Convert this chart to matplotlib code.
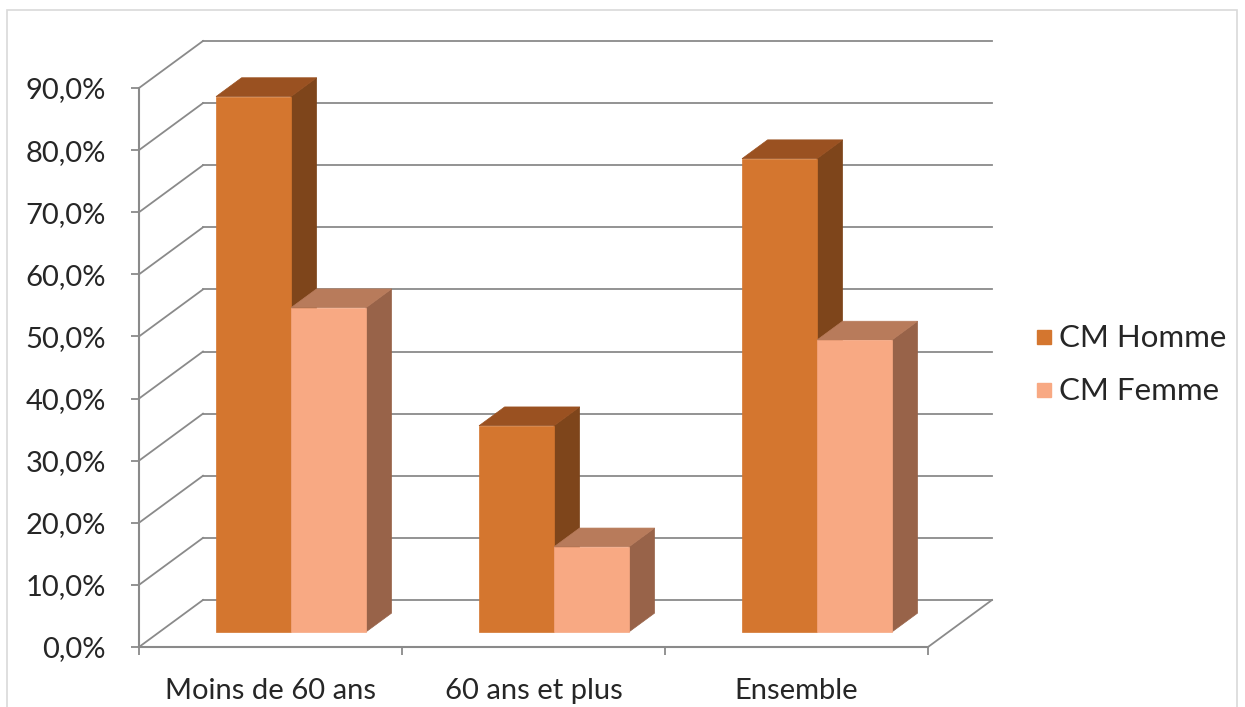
import matplotlib
matplotlib.use("Agg")
import matplotlib.pyplot as plt
from matplotlib.patches import Polygon, Rectangle
from matplotlib.lines import Line2D
import numpy as np

plt.rcParams["font.family"] = ["Lato", "DejaVu Sans"]

categories = ["Moins de 60 ans", "60 ans et plus", "Ensemble"]
series_names = ["CM Homme", "CM Femme"]
homme = [86.2, 33.2, 76.2]
femme = [52.2, 13.7, 47.0]
yticks = [0, 10, 20, 30, 40, 50, 60, 70, 80, 90]

# faces: front, top, side
COLORS = {
    "CM Homme": ("#D4762F", "#9A5121", "#7E451B"),
    "CM Femme": ("#F8A983", "#B87B5B", "#986349"),
}
GRID = "#8A8A8A"
TXT = "#262626"

# oblique projection of the depth axis (full depth in data units)
DX, DY = 0.2433, 7.57
D0, D1 = 0.32, 0.72      # bar depth span
BAR_W = 0.285


def proj(x, v, d):
    return (x + d * DX, v + d * DY)


fig = plt.figure(figsize=(12.45, 7.07), dpi=100)
ax = fig.add_axes([139 / 1245, 60 / 707, 789 / 1245, 559 / 707])
ax.set_xlim(0, 3)
ax.set_ylim(0, 90)
for s in ax.spines.values():
    s.set_visible(False)

# back wall gridlines + left wall diagonals
for v in yticks:
    x0, y0 = proj(0, v, 1)
    x1, y1 = proj(3, v, 1)
    ax.add_line(Line2D([x0, x1], [y0, y1], color=GRID, lw=1.3, clip_on=False, zorder=1))
    ax.add_line(Line2D([0, x0], [v, y0], color=GRID, lw=1.3, clip_on=False, zorder=1))

# floor right edge, front axes
xr, yr = proj(3, 0, 1)
ax.add_line(Line2D([3, xr], [0, yr], color=GRID, lw=1.3, clip_on=False, zorder=1))
ax.add_line(Line2D([0, 3], [0, 0], color=GRID, lw=1.5, clip_on=False, zorder=1))
ax.add_line(Line2D([0, 0], [0, 90], color=GRID, lw=1.5, clip_on=False, zorder=1))


def bar3d(xl, v, name):
    front_c, top_c, side_c = COLORS[name]
    xr_ = xl + BAR_W
    side = [proj(xr_, 0, D0), proj(xr_, 0, D1), proj(xr_, v, D1), proj(xr_, v, D0)]
    top = [proj(xl, v, D0), proj(xr_, v, D0), proj(xr_, v, D1), proj(xl, v, D1)]
    front = [proj(xl, 0, D0), proj(xr_, 0, D0), proj(xr_, v, D0), proj(xl, v, D0)]
    for pts, c in [(side, side_c), (top, top_c), (front, front_c)]:
        ax.add_patch(Polygon(pts, closed=True, facecolor=c, edgecolor=c, lw=0.5,
                             clip_on=False, zorder=3))


for i in range(len(categories)):
    c = i + 0.5
    bar3d(c - BAR_W, homme[i], "CM Homme")
    bar3d(c, femme[i], "CM Femme")

ax.set_yticks(yticks)
ax.set_yticklabels([f"{t},0%" for t in yticks], fontsize=21, color=TXT)
ax.set_xticks([0, 1, 2, 3], minor=False)
ax.set_xticklabels([])
ax.set_xticks([0.5, 1.5, 2.5], minor=True)
ax.set_xticklabels(categories, minor=True, fontsize=21, color=TXT)
ax.tick_params(axis="y", length=6, width=1.3, color=GRID, pad=18)
ax.tick_params(axis="x", which="major", length=6, width=1.3, color=GRID)
ax.tick_params(axis="x", which="minor", length=0, pad=22)

handles = [Line2D([], [], marker="s", linestyle="none", markersize=10,
                  markerfacecolor=COLORS[n][0], markeredgecolor=COLORS[n][0])
           for n in series_names]
fig.legend(handles, series_names, loc="center left", bbox_to_anchor=(1037 / 1245, 1 - 365 / 707),
           frameon=False, fontsize=22.5, borderpad=0, borderaxespad=0, handletextpad=0.25,
           labelspacing=0.8, handlelength=0.45, labelcolor=TXT)

# outer chart border
fig.add_artist(Rectangle((7 / 1245, -0.02), 1230 / 1245, 1.02 - 10 / 707, transform=fig.transFigure,
                         facecolor="none", edgecolor="#D9D9D9", lw=1.2))

fig.savefig("out.png", dpi=100)
